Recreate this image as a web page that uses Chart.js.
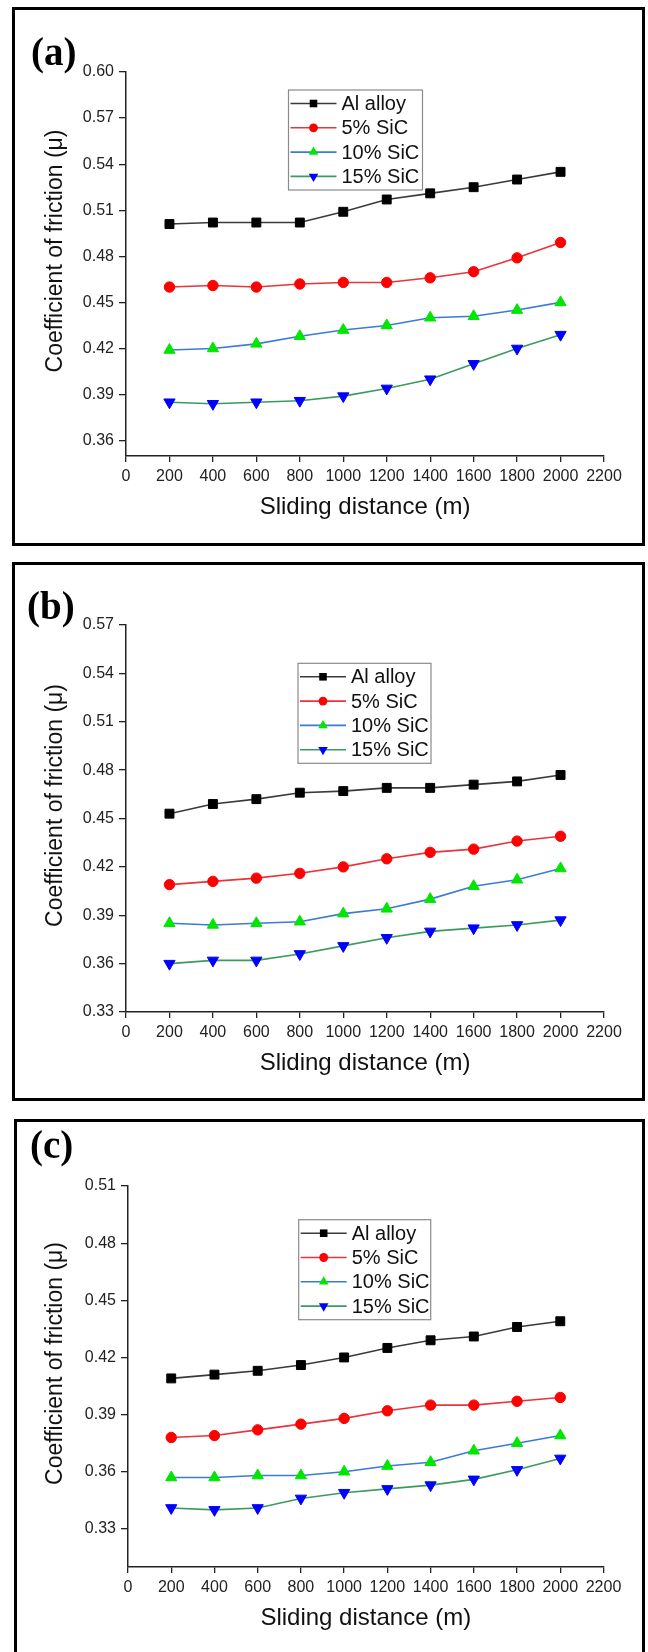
<!DOCTYPE html>
<html>
<head>
<meta charset="utf-8">
<script src="https://cdn.jsdelivr.net/npm/chart.js@4.4.1/dist/chart.umd.min.js"></script>
<style>
  html, body { margin: 0; padding: 0; background: #fff; }
  body { width: 648px; height: 1652px; position: relative; overflow: hidden; }
  .frame { position: absolute; border: 3px solid #000; box-sizing: border-box; }
  .tag { position: absolute; font: bold 39px "Liberation Serif", "Times New Roman", serif; line-height: 39px; color: #000; }
  .panel { position: absolute; left: 0; width: 648px; }
</style>
</head>
<body>
<div class="frame" style="left:12px;top:7px;width:633px;height:539px"></div>
<div class="frame" style="left:12px;top:562px;width:633px;height:539px"></div>
<div class="frame" style="left:14px;top:1119px;width:631px;height:600px"></div>

<div class="panel" style="top:0px;height:541px"><canvas id="chartA"></canvas></div>
<div class="panel" style="top:560px;height:537px"><canvas id="chartB"></canvas></div>
<div class="panel" style="top:1110px;height:542px"><canvas id="chartC"></canvas></div>

<div class="tag" style="left:31px;top:32px">(a)</div>
<div class="tag" style="left:27px;top:586px">(b)</div>
<div class="tag" style="left:30px;top:1125px">(c)</div>

<script>
// Sliding distance (m)
const distances = [200, 400, 600, 800, 1000, 1200, 1400, 1600, 1800, 2000];
const seriesNames = ['Al alloy', '5% SiC', '10% SiC', '15% SiC'];

// Panel (a)
const alloyA = [0.501, 0.502, 0.502, 0.502, 0.509, 0.517, 0.521, 0.525, 0.530, 0.535];
const sic5A  = [0.460, 0.461, 0.460, 0.462, 0.463, 0.463, 0.466, 0.470, 0.479, 0.489];
const sic10A = [0.419, 0.420, 0.423, 0.428, 0.432, 0.435, 0.440, 0.441, 0.445, 0.450];
const sic15A = [0.385, 0.384, 0.385, 0.386, 0.389, 0.394, 0.400, 0.410, 0.420, 0.429];

// Panel (b)
const alloyB = [0.453, 0.459, 0.462, 0.466, 0.467, 0.469, 0.469, 0.471, 0.473, 0.477];
const sic5B  = [0.409, 0.411, 0.413, 0.416, 0.420, 0.425, 0.429, 0.431, 0.436, 0.439];
const sic10B = [0.385, 0.384, 0.385, 0.386, 0.391, 0.394, 0.400, 0.408, 0.412, 0.419];
const sic15B = [0.360, 0.362, 0.362, 0.366, 0.371, 0.376, 0.380, 0.382, 0.384, 0.387];

// Panel (c)
const alloyC = [0.409, 0.411, 0.413, 0.416, 0.420, 0.425, 0.429, 0.431, 0.436, 0.439];
const sic5C  = [0.378, 0.379, 0.382, 0.385, 0.388, 0.392, 0.395, 0.395, 0.397, 0.399];
const sic10C = [0.357, 0.357, 0.358, 0.358, 0.360, 0.363, 0.365, 0.371, 0.375, 0.379];
const sic15C = [0.341, 0.340, 0.341, 0.346, 0.349, 0.351, 0.353, 0.356, 0.361, 0.367];

// Tick labels
const xTicks  = [0, 200, 400, 600, 800, 1000, 1200, 1400, 1600, 1800, 2000, 2200];
const yTicksA = [0.36, 0.39, 0.42, 0.45, 0.48, 0.51, 0.54, 0.57, 0.60];
const yTicksB = [0.33, 0.36, 0.39, 0.42, 0.45, 0.48, 0.51, 0.54, 0.57];
const yTicksC = [0.33, 0.36, 0.39, 0.42, 0.45, 0.48, 0.51];

const FONT = '"Liberation Sans", Arial, Helvetica, sans-serif';

// Look of each series (line colour differs from marker colour, as in Origin)
const seriesStyles = [
    { line: '#3a3a3a', fill: '#000000', shape: 'rect', rot: 0, r: 6.3 },
    { line: '#e8343a', fill: '#ff0000', shape: 'circle', rot: 0, r: 5.2 },
    { line: '#3a7bd5', fill: '#00e600', shape: 'triangle', rot: 0, r: 6.5 },
    { line: '#3c9a5f', fill: '#0000ff', shape: 'triangle', rot: 180, r: 6.5 },
];

function drawMarker(ctx, st, x, y, r) {
    ctx.fillStyle = st.fill;
    ctx.beginPath();
    if (st.shape === 'rect') {
        const s = r * Math.SQRT1_2;
        ctx.rect(x - s, y - s, 2 * s, 2 * s);
    } else if (st.shape === 'circle') {
        ctx.arc(x, y, r, 0, Math.PI * 2);
    } else {
        let a = st.rot * Math.PI / 180;
        ctx.moveTo(x + Math.sin(a) * r, y - Math.cos(a) * r);
        a += Math.PI * 2 / 3;
        ctx.lineTo(x + Math.sin(a) * r, y - Math.cos(a) * r);
        a += Math.PI * 2 / 3;
        ctx.lineTo(x + Math.sin(a) * r, y - Math.cos(a) * r);
        ctx.closePath();
    }
    ctx.fill();
}

// Legend box inside the plot and the rotated y title
function makeDecor(legendBox) {
    return {
        id: 'panelDecor',
        afterDraw(chart) {
            const ctx = chart.ctx;
            const area = chart.chartArea;
            ctx.save();
            // y axis title
            ctx.fillStyle = '#111';
            ctx.font = '23px ' + FONT;
            ctx.textAlign = 'center';
            ctx.textBaseline = 'middle';
            ctx.translate(56, (area.top + area.bottom) / 2 - 13);
            ctx.rotate(-Math.PI / 2);
            ctx.fillText('Coefficient of friction (\u03bc)', 0, 0);
            ctx.restore();

            ctx.save();
            const L = legendBox;
            ctx.fillStyle = '#fff';
            ctx.fillRect(L.x, L.y, L.w, L.h);
            ctx.strokeStyle = '#8a8a8a';
            ctx.lineWidth = 1.2;
            ctx.strokeRect(L.x, L.y, L.w, L.h);
            chart.data.datasets.forEach((ds, i) => {
                const st = seriesStyles[i];
                const y = L.y + 13.5 + i * 24.3;
                ctx.strokeStyle = st.line;
                ctx.lineWidth = 1.6;
                ctx.beginPath();
                ctx.moveTo(L.x + 2, y);
                ctx.lineTo(L.x + 48, y);
                ctx.stroke();
                drawMarker(ctx, st, L.x + 25, y, st.r * 0.85);
                ctx.fillStyle = '#111';
                ctx.font = '20px ' + FONT;
                ctx.textAlign = 'left';
                ctx.textBaseline = 'middle';
                ctx.fillText(ds.label, L.x + 53, y + 1);
            });
            ctx.restore();
        }
    };
}

function buildPanel(canvasId, values, yMin, yMax, yTicks, geo) {
    const datasets = values.map((vals, i) => {
        const st = seriesStyles[i];
        return {
            label: seriesNames[i],
            data: distances.map((d, k) => ({ x: d, y: vals[k] })),
            borderColor: st.line,
            borderWidth: 1.6,
            pointStyle: st.shape,
            pointRotation: st.rot,
            pointRadius: st.r,
            pointBackgroundColor: st.fill,
            pointBorderColor: st.fill,
            pointBorderWidth: 1,
            tension: 0,
            fill: false,
        };
    });

    return new Chart(document.getElementById(canvasId).getContext('2d'), {
        type: 'line',
        data: { datasets: datasets },
        options: {
            responsive: true,
            maintainAspectRatio: false,
            animation: false,
            layout: { padding: { left: 0, right: geo.padRight, top: geo.padTop, bottom: 0 } },
            plugins: {
                legend: { display: false },
                tooltip: { enabled: false },
            },
            scales: {
                x: {
                    type: 'linear',
                    min: 0,
                    max: 2200,
                    afterBuildTicks: (s) => { s.ticks = xTicks.map(v => ({ value: v })); },
                    afterFit: (s) => { s.height = 85; },
                    ticks: {
                        callback: (v) => String(v),
                        color: '#222',
                        padding: 5,
                        maxRotation: 0,
                        autoSkip: false,
                        font: { family: FONT, size: 16 },
                    },
                    grid: { drawOnChartArea: false, drawTicks: true, tickLength: 6, color: '#222', lineWidth: 1.3 },
                    border: { display: true, color: '#222', width: 1.5 },
                    title: {
                        display: true,
                        text: 'Sliding distance (m)',
                        color: '#111',
                        font: { family: FONT, size: 24 },
                        padding: { top: 0, bottom: 19 },
                    },
                },
                y: {
                    min: yMin,
                    max: yMax,
                    afterBuildTicks: (s) => { s.ticks = yTicks.map(v => ({ value: v })); },
                    afterFit: (s) => { s.width = geo.yWidth; },
                    ticks: {
                        callback: (v) => Number(v).toFixed(2),
                        color: '#222',
                        padding: 5,
                        autoSkip: false,
                        font: { family: FONT, size: 16 },
                    },
                    grid: { drawOnChartArea: false, drawTicks: true, tickLength: 7, color: '#222', lineWidth: 1.3 },
                    border: { display: true, color: '#222', width: 1.5 },
                },
            },
        },
        plugins: [makeDecor(geo.legend)],
    });
}

buildPanel('chartA', [alloyA, sic5A, sic10A, sic15A], 0.35, 0.60, yTicksA,
    { padTop: 72, padRight: 44, yWidth: 126, legend: { x: 288.5, y: 90, w: 134, h: 100 } });
buildPanel('chartB', [alloyB, sic5B, sic10B, sic15B], 0.33, 0.57, yTicksB,
    { padTop: 65, padRight: 44, yWidth: 126, legend: { x: 298, y: 103.3, w: 133, h: 100 } });
buildPanel('chartC', [alloyC, sic5C, sic10C, sic15C], 0.31, 0.51, yTicksC,
    { padTop: 76, padRight: 44.5, yWidth: 128, legend: { x: 298.7, y: 109.7, w: 132, h: 100 } });
</script>
</body>
</html>
